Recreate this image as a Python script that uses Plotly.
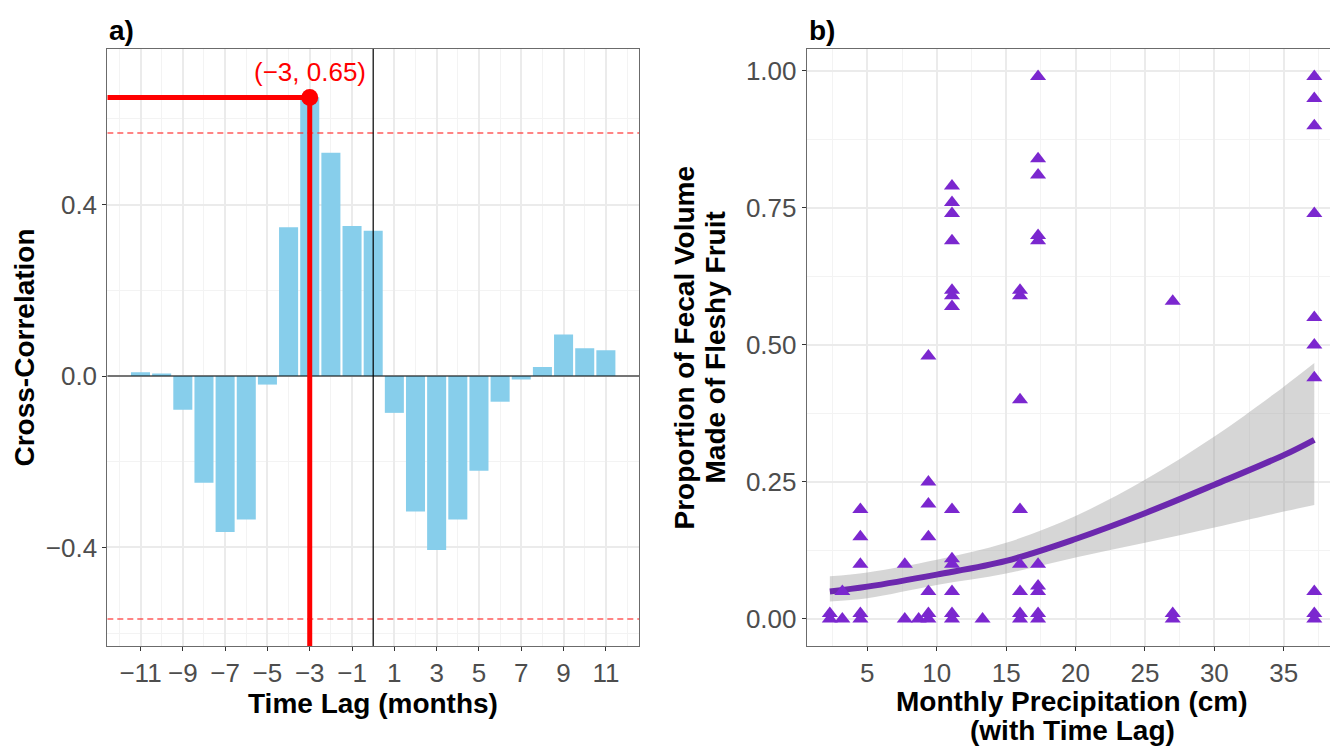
import plotly.graph_objects as go

# ---------------- data: panel a (cross-correlation) ----------------
lags = list(range(-11, 12))
ccf = [0.009, 0.006, -0.079, -0.249, -0.364, -0.335, -0.020, 0.347, 0.650, 0.521,
       0.350, 0.339, -0.086, -0.316, -0.406, -0.335, -0.221, -0.060, -0.008, 0.021,
       0.097, 0.065, 0.060]
ci_bound = 0.567
peak_label = "(\u22123, 0.65)"

# ---------------- data: panel b (fruit vs precipitation) ----------------
precip = ([2.3] * 2 + [3.2] * 2 + [4.5] * 5 + [7.7] * 2 + [8.7] * 1 + [9.4] * 7
          + [11.1] * 13 + [13.3] * 1 + [16.0] * 8 + [17.3] * 10 + [27.0] * 3 + [37.2] * 10)
fruit = ([0.01, 0.00]
         + [0.05, 0.00]
         + [0.20, 0.15, 0.10, 0.01, 0.00]
         + [0.10, 0.00]
         + [0.00]
         + [0.48, 0.25, 0.21, 0.15, 0.05, 0.01, 0.00]
         + [0.79, 0.76, 0.74, 0.69, 0.60, 0.59, 0.57, 0.20, 0.11, 0.10, 0.05, 0.01, 0.00]
         + [0.00]
         + [0.60, 0.59, 0.40, 0.20, 0.10, 0.05, 0.01, 0.00]
         + [0.99, 0.84, 0.81, 0.70, 0.69, 0.10, 0.06, 0.05, 0.01, 0.00]
         + [0.58, 0.01, 0.00]
         + [0.99, 0.95, 0.90, 0.74, 0.55, 0.50, 0.44, 0.05, 0.01, 0.00])
fit_x = [2.3, 5, 10, 15, 20, 25, 30, 35, 37.2]
fit_mid = [0.050, 0.059, 0.081, 0.106, 0.146, 0.193, 0.245, 0.299, 0.327]
fit_lo = [0.032, 0.038, 0.062, 0.083, 0.112, 0.139, 0.167, 0.196, 0.208]
fit_hi = [0.078, 0.085, 0.108, 0.139, 0.188, 0.254, 0.333, 0.424, 0.467]

# ---------------- layout constants ----------------
W, H = 1330, 748
FONT = "Liberation Sans, Arial, sans-serif"
xr_a = [-12.57, 12.58]
yr_a = [-0.630, 0.763]
xr_b = [0.634, 38.33]
yr_b = [-0.0493, 1.0401]


def px(x):
    return x / W


def py(y):
    return 1 - y / H


peak_i = max(range(len(ccf)), key=lambda i: ccf[i])
peak_lag, peak_val = lags[peak_i], ccf[peak_i]

fig = go.Figure()

# panel a
fig.add_trace(go.Bar(x=lags, y=ccf, width=0.9, marker=dict(color="#87CEEB", line=dict(width=0)),
                     xaxis="x", yaxis="y"))
for b in (ci_bound, -ci_bound):
    fig.add_trace(go.Scatter(x=xr_a, y=[b, b], mode="lines",
                             line=dict(color="rgba(255,50,50,0.8)", width=1.6, dash="6px,4px"),
                             xaxis="x", yaxis="y"))
fig.add_trace(go.Scatter(x=xr_a, y=[0, 0], mode="lines", line=dict(color="black", width=1.2),
                         xaxis="x", yaxis="y"))
fig.add_trace(go.Scatter(x=[0, 0], y=yr_a, mode="lines", line=dict(color="black", width=1.2),
                         xaxis="x", yaxis="y"))
fig.add_trace(go.Scatter(x=[xr_a[0], peak_lag], y=[peak_val, peak_val], mode="lines",
                         line=dict(color="red", width=5), xaxis="x", yaxis="y"))
fig.add_trace(go.Scatter(x=[peak_lag, peak_lag], y=[peak_val, yr_a[0]], mode="lines",
                         line=dict(color="red", width=5), xaxis="x", yaxis="y"))
fig.add_trace(go.Scatter(x=[peak_lag], y=[peak_val], mode="markers",
                         marker=dict(color="red", size=17, line=dict(width=0)), xaxis="x", yaxis="y"))

# panel b
fig.add_trace(go.Scatter(x=fit_x, y=fit_lo, mode="lines", line=dict(width=0, shape="spline"),
                         xaxis="x2", yaxis="y2"))
fig.add_trace(go.Scatter(x=fit_x, y=fit_hi, mode="lines", line=dict(width=0, shape="spline"),
                         fill="tonexty", fillcolor="rgba(153,153,153,0.4)", xaxis="x2", yaxis="y2"))
fig.add_trace(go.Scatter(x=fit_x, y=fit_mid, mode="lines",
                         line=dict(color="#6C28AE", width=6, shape="spline"), xaxis="x2", yaxis="y2"))
fig.add_trace(go.Scatter(x=precip, y=fruit, mode="markers",
                         marker=dict(symbol="triangle-up", size=14, color="#7B27CF", line=dict(width=0)),
                         xaxis="x2", yaxis="y2"))

common = dict(showline=True, linecolor="#6b6b6b", linewidth=1, ticks="outside", ticklen=4,
              tickcolor="#333333", tickwidth=1, zeroline=False,
              showgrid=True, gridcolor="#EBEBEB", gridwidth=1.5,
              tickfont=dict(family=FONT, size=26, color="#4D4D4D"))
minor_style = dict(showgrid=True, gridcolor="#F3F3F3", gridwidth=1, ticks="")

fig.update_layout(
    width=W, height=H, margin=dict(l=0, r=0, t=0, b=0),
    paper_bgcolor="white", plot_bgcolor="white", showlegend=False,
    font=dict(family=FONT),
    xaxis=dict(domain=[px(107.3), px(639.3)], range=xr_a, tickmode="array",
               tickvals=list(range(-11, 12, 2)), mirror=True,
               minor=dict(tickvals=list(range(-12, 13, 2)), **minor_style), **common),
    yaxis=dict(domain=[py(646), py(49)], range=yr_a, tickmode="array",
               tickvals=[-0.4, 0.0, 0.4], tickformat=".1f", mirror=True,
               minor=dict(tickvals=[-0.6, -0.2, 0.2, 0.6], **minor_style), **common),
    xaxis2=dict(domain=[px(806.7), 1.0], range=xr_b, tickmode="array",
                tickvals=[5, 10, 15, 20, 25, 30, 35], mirror=True, anchor="y2",
                minor=dict(tickvals=[2.5, 7.5, 12.5, 17.5, 22.5, 27.5, 32.5, 37.5], **minor_style),
                **common),
    yaxis2=dict(domain=[py(646), py(49)], range=yr_b, tickmode="array",
                tickvals=[0, 0.25, 0.5, 0.75, 1.0], tickformat=".2f", mirror=False, anchor="x2",
                minor=dict(tickvals=[0.125, 0.375, 0.625, 0.875], **minor_style), **common),
)

title_font = dict(family=FONT, size=28, color="black")
ann = [
    dict(text="<b>a)</b>", x=px(107.3), y=py(30), xanchor="left", yanchor="middle"),
    dict(text="<b>b)</b>", x=px(806.7), y=py(30), xanchor="left", yanchor="middle"),
    dict(text="<b>Time Lag (months)</b>", x=px(373.3), y=py(703), xanchor="center", yanchor="middle"),
    dict(text="<b>Monthly Precipitation (cm)</b>", x=px(1072), y=py(701), xanchor="center", yanchor="middle"),
    dict(text="<b>(with Time Lag)</b>", x=px(1072), y=py(730), xanchor="center", yanchor="middle"),
    dict(text="<b>Cross-Correlation</b>", x=px(24), y=py(347.5), xanchor="center", yanchor="middle",
         textangle=-90),
    dict(text="<b>Proportion of Fecal Volume</b>", x=px(684), y=py(347.5), xanchor="center",
         yanchor="middle", textangle=-90),
    dict(text="<b>Made of Fleshy Fruit</b>", x=px(715), y=py(347.5), xanchor="center",
         yanchor="middle", textangle=-90),
]
for a in ann:
    fig.add_annotation(xref="paper", yref="paper", showarrow=False, font=title_font, **a)

fig.add_annotation(text=peak_label, x=peak_lag, y=peak_val, xref="x", yref="y", showarrow=False,
                   yshift=25, xanchor="center", yanchor="middle",
                   font=dict(family=FONT, size=26, color="red"))

fig.write_html("out.html", config={"displayModeBar": False},
               post_script="document.body.style.margin='0';document.body.style.overflow='hidden';")
